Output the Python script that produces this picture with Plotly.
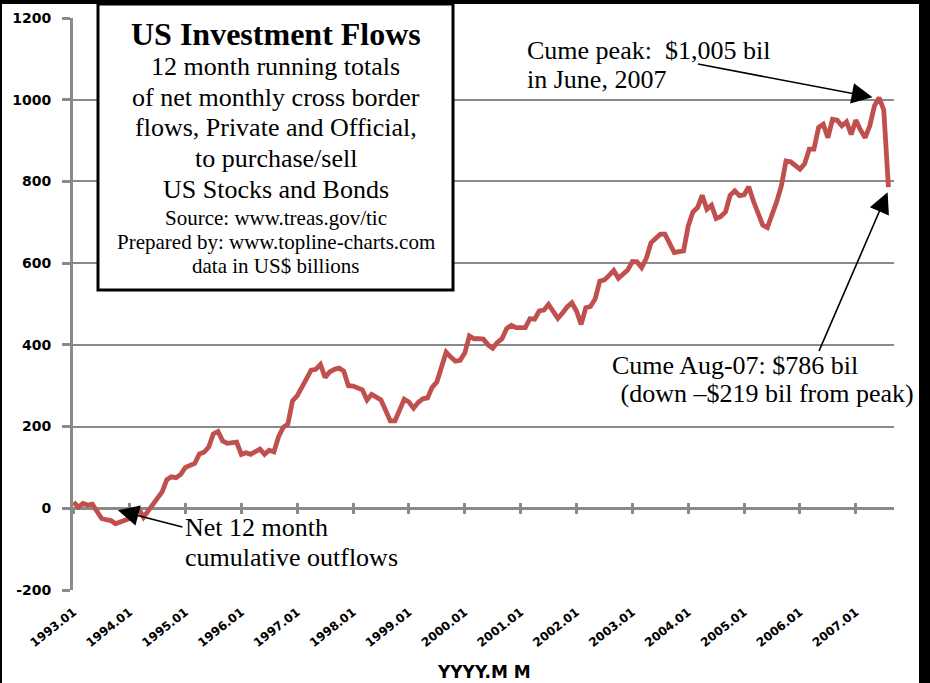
import plotly.graph_objects as go

# ---------------- data ----------------
years = list(range(1993, 2008))
months = [f"{y}.{m:02d}" for y in years for m in range(1, 13)][:176]  # 1993.01 .. 2007.08

flows = [
    # 1993
    15, 3, 12, 8, 10, -8, -25, -28, -30, -38, -33, -30,
    # 1994
    -25, -12, -2, -22, -5, 10, 25, 40, 70, 77, 75, 83,
    # 1995
    100, 105, 110, 133, 137, 150, 182, 188, 165, 159, 160, 162,
    # 1996
    132, 136, 132, 138, 145, 132, 142, 138, 175, 198, 206, 263,
    # 1997
    275, 296, 318, 338, 340, 352, 320, 334, 340, 343, 336, 300,
    # 1998
    299, 296, 290, 265, 279, 272, 265, 240, 214, 214, 240, 267,
    # 1999
    260, 245, 259, 268, 270, 296, 309, 345, 382, 370, 360, 362,
    # 2000
    380, 422, 415, 415, 414, 400, 392, 406, 415, 440, 448, 442,
    # 2001
    442, 442, 464, 463, 483, 485, 499, 483, 465, 478, 493, 503,
    # 2002
    483, 450, 491, 494, 512, 556, 559, 570, 582, 563, 574, 583,
    # 2003
    604, 603, 589, 612, 650, 660, 671, 671, 650, 626, 628, 630,
    # 2004
    691, 725, 736, 766, 732, 742, 709, 714, 725, 766, 777, 765,
    # 2005
    767, 787, 752, 720, 693, 687, 716, 750, 789, 850, 848, 840,
    # 2006
    830, 843, 879, 879, 932, 940, 907, 952, 950, 936, 946, 915,
    # 2007
    950, 926, 907, 936, 985, 1005, 975, 786,
]

y_tick_vals = [-200, 0, 200, 400, 600, 800, 1000, 1200]
y_tick_text = ["-200", "0", "200", "400", "600", "800", "1000", "1200"]
x_tick_labels = [f"{y}.01" for y in range(1993, 2008)]

box_lines = [
    ("<b>US Investment Flows</b>", 32),
    ("12 month running totals", 26),
    ("of net monthly cross border", 26),
    ("flows, Private and Official,", 26),
    ("to purchase/sell", 26),
    ("US Stocks and Bonds", 26),
    ("Source: www.treas.gov/tic", 21),
    ("Prepared by: www.topline-charts.com", 21),
    ("data in US$ billions", 21),
]
box_centers_px = [34, 67, 97, 128, 158, 189, 218, 242, 266]

# ---------------- geometry helpers ----------------
W, H = 930, 683
ML, MR, MT, MB = 73, 36, 18, 93
PW, PH = W - ML - MR, H - MT - MB


def px_x(px):
    return (px - ML) / PW


def px_y(py):
    return (H - MB - py) / PH


GRID = "#8a8a8a"
RED = "#C0504D"
SERIF = "Liberation Serif, Times New Roman, serif"

fig = go.Figure()
fig.add_trace(go.Scatter(
    x=months, y=flows, mode="lines",
    line=dict(color=RED, width=4.8),
    hoverinfo="skip", showlegend=False,
))
# invisible helpers so the crossing tick-mark axes render
for ax in ("x2", "x3"):
    fig.add_trace(go.Scatter(
        x=months, y=flows, mode="lines", xaxis=ax, yaxis="y",
        line=dict(width=0), opacity=0, hoverinfo="skip", showlegend=False,
    ))

xrange = [-0.15, 176.2]
zero_pos = (0 - y_tick_vals[0]) / (y_tick_vals[-1] - y_tick_vals[0])

fig.update_layout(
    width=W, height=H,
    margin=dict(l=ML, r=MR, t=MT, b=MB, pad=0, autoexpand=False),
    paper_bgcolor="white", plot_bgcolor="white",
    showlegend=False,
    xaxis=dict(
        type="category", range=xrange,
        tickmode="array", tickvals=x_tick_labels, ticktext=x_tick_labels,
        tickangle=-38, ticks="", showgrid=False, showline=False, zeroline=False,
        tickfont=dict(family="DejaVu Sans", size=12, color="black", weight="bold"),
        ticklabelstandoff=12, automargin=False,
    ),
    xaxis2=dict(
        type="category", range=xrange, overlaying="x", anchor="free", position=zero_pos,
        tickmode="array", tickvals=x_tick_labels, showticklabels=False,
        ticks="outside", ticklen=5, tickwidth=3, tickcolor=GRID,
        showgrid=False, showline=False, zeroline=False,
    ),
    xaxis3=dict(
        type="category", range=xrange, overlaying="x", anchor="free", position=zero_pos,
        tickmode="array", tickvals=x_tick_labels, showticklabels=False,
        ticks="inside", ticklen=5, tickwidth=3, tickcolor=GRID,
        showgrid=False, showline=False, zeroline=False,
    ),
    yaxis=dict(
        range=[y_tick_vals[0], y_tick_vals[-1]],
        tickmode="array", tickvals=y_tick_vals, ticktext=y_tick_text,
        ticks="outside", ticklen=8, tickwidth=3, tickcolor=GRID,
        showgrid=True, gridcolor=GRID, gridwidth=2,
        showline=True, linecolor=GRID, linewidth=3,
        zeroline=True, zerolinecolor=GRID, zerolinewidth=3,
        tickfont=dict(family="DejaVu Sans", size=14, color="black", weight="bold"),
        ticklabelstandoff=8, automargin=False,
    ),
)

shapes = [
    # text box
    dict(type="rect", xref="paper", yref="paper",
         x0=px_x(98), x1=px_x(453), y0=px_y(290), y1=px_y(4),
         line=dict(color="black", width=3), fillcolor="white", layer="above"),
    # outer frame pieces
    dict(type="rect", xref="paper", yref="paper",
         x0=px_x(0), x1=px_x(W), y0=px_y(4), y1=px_y(0),
         line=dict(width=0), fillcolor="black", layer="above"),
    dict(type="rect", xref="paper", yref="paper",
         x0=px_x(0), x1=px_x(2), y0=px_y(H), y1=px_y(0),
         line=dict(width=0), fillcolor="black", layer="above"),
    dict(type="rect", xref="paper", yref="paper",
         x0=px_x(919), x1=px_x(W), y0=px_y(H), y1=px_y(0),
         line=dict(width=0), fillcolor="black", layer="above"),
]

annotations = []
for (txt, sz), cy in zip(box_lines, box_centers_px):
    annotations.append(dict(
        xref="paper", yref="paper", x=px_x(275.5), y=px_y(cy),
        xanchor="center", yanchor="middle", showarrow=False,
        text=txt, font=dict(family=SERIF, size=sz, color="black"),
    ))


def label(txt, x_px, cy_px, size=26):
    annotations.append(dict(
        xref="paper", yref="paper", x=px_x(x_px), y=px_y(cy_px),
        xanchor="left", yanchor="middle", showarrow=False,
        text=txt, font=dict(family=SERIF, size=size, color="black"),
    ))


label("Cume peak:\u00a0 $1,005 bil", 525, 50)
label("in June, 2007", 525, 79)
label("Cume Aug-07: $786 bil", 610, 365)
label("\u00a0(down \u2013$219 bil from peak)", 612, 393)
label("Net 12 month", 183, 527)
label("cumulative outflows", 183, 557)

# x-axis title
annotations.append(dict(
    xref="paper", yref="paper", x=0.5, y=px_y(672),
    xanchor="center", yanchor="middle", showarrow=False,
    text="<b>YYYY.M M</b>", font=dict(family="DejaVu Sans", size=17, color="black"),
))

# arrows (head positions tied to data points, using category index)
peak_i = flows.index(max(flows))
last_i = len(flows) - 1
arrow_style = dict(xref="x", yref="y", showarrow=True, arrowhead=2, arrowsize=2.6,
                   arrowwidth=1.6, arrowcolor="black", text="",
                   axref="pixel", ayref="pixel")
annotations.append(dict(x=peak_i - 1.0, y=flows[peak_i], ax=-178, ay=-34,
                        standoff=2, **arrow_style))
annotations.append(dict(x=last_i, y=flows[last_i] - 8, ax=-70, ay=162,
                        standoff=2, **arrow_style))
annotations.append(dict(x=9.5, y=flows[10] + 28, ax=66, ay=17,
                        standoff=0, **arrow_style))

fig.update_layout(shapes=shapes, annotations=annotations)
fig.write_html(
    "out.html",
    config={"displayModeBar": False},
    post_script="document.body.style.margin='0';document.body.style.padding='0';"
                "document.documentElement.style.overflow='hidden';",
)
